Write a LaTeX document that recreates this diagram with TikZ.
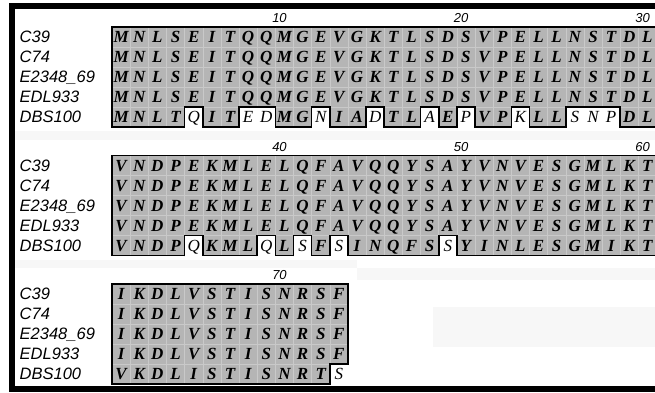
\documentclass[tikz,border=0pt]{standalone}
\usepackage{fontspec}
\setmainfont{Liberation Serif}
\setsansfont{Liberation Sans}
\newcommand{\cw}{18.15}
\newcommand{\xo}{112}
\begin{document}
\begin{tikzpicture}[
  x=1pt, y=-1pt,
  res/.style={anchor=base, inner sep=0pt, font=\fontsize{17}{17}\selectfont\bfseries\itshape},
  gap/.style={anchor=base, inner sep=0pt, font=\fontsize{17}{17}\selectfont\itshape},
  strain/.style={anchor=base west, inner sep=0pt, font=\fontsize{16.5}{16.5}\selectfont\sffamily\itshape},
  posnum/.style={anchor=base east, inner sep=0pt, font=\fontsize{13}{13}\selectfont\sffamily\itshape},
  shade/.style={fill=black!29},
  gridline/.style={draw=black!21, line width=0.5pt},
  outline/.style={draw=black, line width=1.6pt},
  haze/.style={fill=black!3}
]
\useasboundingbox (0,0) rectangle (655,392);
% faint bands between the blocks
\fill[haze] (15,131) rectangle (655,140);
\fill[haze] (15,260) rectangle (357,268);
\fill[haze] (357,268) rectangle (655,280);
\fill[haze] (433,307) rectangle (655,347);
% frame
\fill (9,3) rectangle (655,9);
\fill (9,3) rectangle (15,392);
\fill (9,386) rectangle (655,392);

% residues 1-30
\begin{scope}[shift={(0,27)}]
  \fill[shade] (\xo,0) rectangle ({\xo+30*\cw},100);
  \foreach \i in {1,...,29}
    \draw[gridline] ({\xo+\i*\cw},0) -- ({\xo+\i*\cw},100);
  \foreach \r in {1,...,4}
    \draw[gridline] (\xo,20*\r) -- ({\xo+30*\cw},20*\r);
  \draw[outline] (\xo,0) rectangle ({\xo+30*\cw},100);
  \foreach \a/\b in {5/5,8/9,12/12,15/15,18/18,20/20,23/23,26/28} {
    \fill[white] ({\xo+(\a-1)*\cw},80) rectangle ({\xo+\b*\cw},102);
    \draw[outline] ({\xo+(\a-1)*\cw},100.8) |- ({\xo+\b*\cw},80) -- ({\xo+\b*\cw},100.8);
  }
  \foreach \n/\c in {10/10,20/20,30/30}
    \node[posnum] (num-\n) at ({\xo+(\c-0.5)*\cw+2.5},-4.5) {\n};
  \foreach \r/\lab in {1/C39,2/C74,3/E2348\_69,4/EDL933,5/DBS100}
    \node[strain] (st1-\r) at (19.5,20*\r-4.2) {\lab};
  \foreach \r in {1,...,4}
    \foreach \aa [count=\i] in {M,N,L,S,E,I,T,Q,Q,M,G,E,V,G,K,T,L,S,D,S,V,P,E,L,L,N,S,T,D,L}
      \node[res] (aa1-\r-\i) at ({\xo+(\i-0.5)*\cw},20*\r-4.4) {\aa};
  \foreach \aa/\st [count=\i] in {M/res,N/res,L/res,T/res,Q/gap,I/res,T/res,E/gap,D/gap,M/res,
      G/res,N/gap,I/res,A/res,D/gap,T/res,L/res,A/gap,E/res,P/gap,
      V/res,P/res,K/gap,L/res,L/res,S/gap,N/gap,P/gap,D/res,L/res}
    \node[\st] (aa1-5-\i) at ({\xo+(\i-0.5)*\cw},95.6) {\aa};
\end{scope}

% residues 31-60
\begin{scope}[shift={(0,155.5)}]
  \fill[shade] (\xo,0) rectangle ({\xo+30*\cw},100);
  \foreach \i in {1,...,29}
    \draw[gridline] ({\xo+\i*\cw},0) -- ({\xo+\i*\cw},100);
  \foreach \r in {1,...,4}
    \draw[gridline] (\xo,20*\r) -- ({\xo+30*\cw},20*\r);
  \draw[outline] (\xo,0) rectangle ({\xo+30*\cw},100);
  \foreach \a/\b in {5/5,9/9,11/11,13/13,19/19} {
    \fill[white] ({\xo+(\a-1)*\cw},80) rectangle ({\xo+\b*\cw},102);
    \draw[outline] ({\xo+(\a-1)*\cw},100.8) |- ({\xo+\b*\cw},80) -- ({\xo+\b*\cw},100.8);
  }
  \foreach \n/\c in {40/10,50/20,60/30}
    \node[posnum] (num-\n) at ({\xo+(\c-0.5)*\cw+2.5},-4.5) {\n};
  \foreach \r/\lab in {1/C39,2/C74,3/E2348\_69,4/EDL933,5/DBS100}
    \node[strain] (st2-\r) at (19.5,20*\r-4.2) {\lab};
  \foreach \r in {1,...,4}
    \foreach \aa [count=\i] in {V,N,D,P,E,K,M,L,E,L,Q,F,A,V,Q,Q,Y,S,A,Y,V,N,V,E,S,G,M,L,K,T}
      \node[res] (aa2-\r-\i) at ({\xo+(\i-0.5)*\cw},20*\r-4.4) {\aa};
  \foreach \aa/\st [count=\i] in {V/res,N/res,D/res,P/res,Q/gap,K/res,M/res,L/res,Q/gap,L/res,
      S/gap,F/res,S/gap,I/res,N/res,Q/res,F/res,S/res,S/gap,Y/res,
      I/res,N/res,L/res,E/res,S/res,G/res,M/res,I/res,K/res,T/res}
    \node[\st] (aa2-5-\i) at ({\xo+(\i-0.5)*\cw},95.6) {\aa};
\end{scope}

% residues 61-73
\begin{scope}[shift={(0,284)}]
  \fill[shade] (\xo,0) -| ({\xo+13*\cw},80) -| ({\xo+12*\cw},100) -- (\xo,100) -- cycle;
  \foreach \i in {1,...,11}
    \draw[gridline] ({\xo+\i*\cw},0) -- ({\xo+\i*\cw},100);
  \draw[gridline] ({\xo+12*\cw},0) -- ({\xo+12*\cw},80);
  \foreach \r in {1,...,3}
    \draw[gridline] (\xo,20*\r) -- ({\xo+13*\cw},20*\r);
  \draw[gridline] (\xo,80) -- ({\xo+12*\cw},80);
  \draw[outline] (\xo,0) -| ({\xo+13*\cw},80) -| ({\xo+12*\cw},100) -- (\xo,100) -- cycle;
  \node[posnum] (num-70) at ({\xo+9.5*\cw+2.5},-4.5) {70};
  \foreach \r/\lab in {1/C39,2/C74,3/E2348\_69,4/EDL933,5/DBS100}
    \node[strain] (st3-\r) at (19.5,20*\r-4.2) {\lab};
  \foreach \r in {1,...,4}
    \foreach \aa [count=\i] in {I,K,D,L,V,S,T,I,S,N,R,S,F}
      \node[res] (aa3-\r-\i) at ({\xo+(\i-0.5)*\cw},20*\r-4.4) {\aa};
  \foreach \aa/\st [count=\i] in {V/res,K/res,D/res,L/res,I/res,S/res,T/res,I/res,S/res,N/res,
      R/res,T/res,S/gap}
    \node[\st] (aa3-5-\i) at ({\xo+(\i-0.5)*\cw},95.6) {\aa};
\end{scope}
\end{tikzpicture}
\end{document}
